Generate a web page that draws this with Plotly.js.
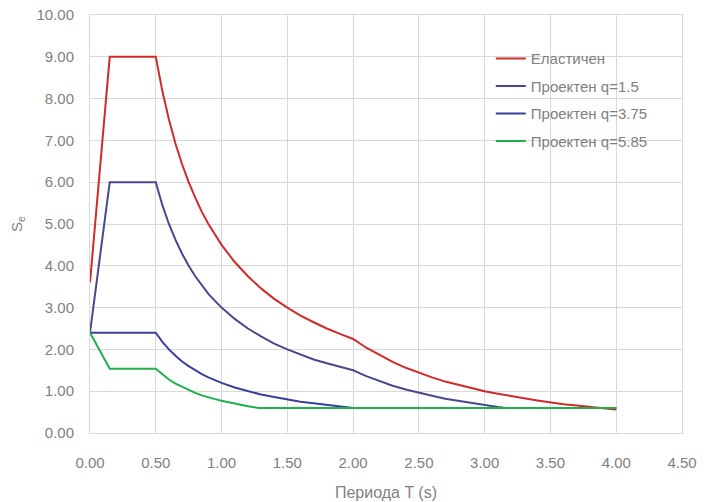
<!DOCTYPE html>
<html>
<head>
<meta charset="utf-8">
<script src="https://cdn.plot.ly/plotly-3.0.1.min.js"></script>
<style>
  html, body { margin: 0; padding: 0; background: #ffffff; }
  #chart { width: 711px; height: 502px; }
</style>
</head>
<body>
<div id="chart"></div>
<script>
// Response spectra: period T (s) against spectral acceleration Se

// Elastic spectrum
const periodElastic = [0, 0.15, 0.5, 0.55, 0.6, 0.65, 0.7, 0.75, 0.8, 0.85, 0.9, 0.95, 1.0,
                       1.1, 1.2, 1.3, 1.4, 1.5, 1.6, 1.7, 1.8, 1.9, 2.0,
                       2.1, 2.2, 2.3, 2.4, 2.5, 2.6, 2.7, 2.8, 2.9, 3.0,
                       3.1, 3.2, 3.3, 3.4, 3.5, 3.6, 3.7, 3.8, 3.9, 4.0];
const seElastic = [3.60, 9.00, 9.00, 8.18, 7.50, 6.92, 6.43, 6.00, 5.63, 5.29, 5.00, 4.74, 4.50,
                   4.09, 3.75, 3.46, 3.21, 3.00, 2.81, 2.65, 2.50, 2.37, 2.25,
                   2.04, 1.86, 1.70, 1.56, 1.44, 1.33, 1.23, 1.15, 1.07, 1.00,
                   0.94, 0.88, 0.83, 0.78, 0.73, 0.69, 0.66, 0.62, 0.59, 0.56];

// Design spectrum, q = 1.5
const periodQ150 = [0, 0.15, 0.5, 0.55, 0.6, 0.65, 0.7, 0.75, 0.8, 0.85, 0.9, 0.95, 1.0,
                    1.1, 1.2, 1.3, 1.4, 1.5, 1.6, 1.7, 1.8, 1.9, 2.0,
                    2.1, 2.2, 2.3, 2.4, 2.5, 2.6, 2.7, 2.8, 2.9, 3.0, 3.1, 3.16, 3.5, 4.0];
const seQ150 = [2.40, 6.00, 6.00, 5.45, 5.00, 4.62, 4.29, 4.00, 3.75, 3.53, 3.33, 3.16, 3.00,
                2.73, 2.50, 2.31, 2.14, 2.00, 1.88, 1.76, 1.67, 1.58, 1.50,
                1.36, 1.24, 1.13, 1.04, 0.96, 0.89, 0.82, 0.77, 0.71, 0.67, 0.62, 0.60, 0.60, 0.60];

// Design spectrum, q = 3.75
const periodQ375 = [0, 0.15, 0.5, 0.55, 0.6, 0.65, 0.7, 0.75, 0.8, 0.85, 0.9, 0.95, 1.0,
                    1.1, 1.2, 1.3, 1.4, 1.5, 1.6, 1.7, 1.8, 1.9, 2.0, 3.0, 4.0];
const seQ375 = [2.40, 2.40, 2.40, 2.18, 2.00, 1.85, 1.71, 1.60, 1.50, 1.41, 1.33, 1.26, 1.20,
                1.09, 1.00, 0.92, 0.86, 0.80, 0.75, 0.71, 0.67, 0.63, 0.60, 0.60, 0.60];

// Design spectrum, q = 5.85
const periodQ585 = [0, 0.15, 0.5, 0.55, 0.6, 0.65, 0.7, 0.75, 0.8, 0.85, 0.9, 0.95, 1.0,
                    1.1, 1.2, 1.28, 2.0, 3.0, 4.0];
const seQ585 = [2.40, 1.54, 1.54, 1.40, 1.28, 1.18, 1.10, 1.03, 0.96, 0.90, 0.85, 0.81, 0.77,
                0.70, 0.64, 0.60, 0.60, 0.60, 0.60];

const seriesNames = ['Еластичен', 'Проектен q=1.5', 'Проектен q=3.75', 'Проектен q=5.85'];
const xTickVals = [0, 0.5, 1, 1.5, 2, 2.5, 3, 3.5, 4, 4.5];
const yTickVals = [0, 1, 2, 3, 4, 5, 6, 7, 8, 9, 10];

const fontFamily = '"Liberation Sans", Arial, sans-serif';
const textGray = '#7f7f7f';
const gridGray = '#d9d9d9';

function line(x, y, name, color) {
  return {
    type: 'scatter', mode: 'lines', x: x, y: y, name: name,
    legendgroup: name,
    line: { color: color, width: 2 },
    hoverinfo: 'x+y+name'
  };
}

const traces = [
  line(periodElastic, seElastic, seriesNames[0], '#d02b2b'),
  line(periodQ150, seQ150, seriesNames[1], '#48488c'),
  line(periodQ375, seQ375, seriesNames[2], '#3a3f9e'),
  line(periodQ585, seQ585, seriesNames[3], '#1fb04c')
];

const layout = {
  width: 711, height: 502,
  margin: { l: 90, r: 29, t: 15, b: 69 },
  paper_bgcolor: '#ffffff', plot_bgcolor: '#ffffff',
  font: { family: fontFamily, size: 15, color: textGray },
  showlegend: true,
  legend: {
    x: 0.677, y: 0.935, xanchor: 'left', yanchor: 'top',
    bgcolor: 'rgba(0,0,0,0)', borderwidth: 0,
    font: { family: fontFamily, size: 15, color: textGray },
    tracegroupgap: 5, itemwidth: 30
  },
  xaxis: {
    range: [0, 4.5], tickvals: xTickVals, tickformat: '.2f',
    showgrid: true, gridcolor: gridGray, gridwidth: 1,
    zeroline: false, showline: true, linecolor: gridGray, linewidth: 1, mirror: true,
    ticks: '', ticklabelstandoff: 16,
    tickfont: { family: fontFamily, size: 15, color: textGray },
    title: { text: 'Периода T (s)', standoff: 16,
             font: { family: fontFamily, size: 16, color: textGray } }
  },
  yaxis: {
    range: [0, 10], tickvals: yTickVals, tickformat: '.2f',
    showgrid: true, gridcolor: gridGray, gridwidth: 1,
    zeroline: false, showline: true, linecolor: gridGray, linewidth: 1, mirror: true,
    ticks: '', ticklabelstandoff: 12,
    tickfont: { family: fontFamily, size: 15, color: textGray },
    title: { text: 'S<sub>e</sub>', standoff: 10,
             font: { family: fontFamily, size: 15, color: textGray } }
  }
};

Plotly.newPlot('chart', traces, layout, { displayModeBar: false, staticPlot: true });
</script>
</body>
</html>
